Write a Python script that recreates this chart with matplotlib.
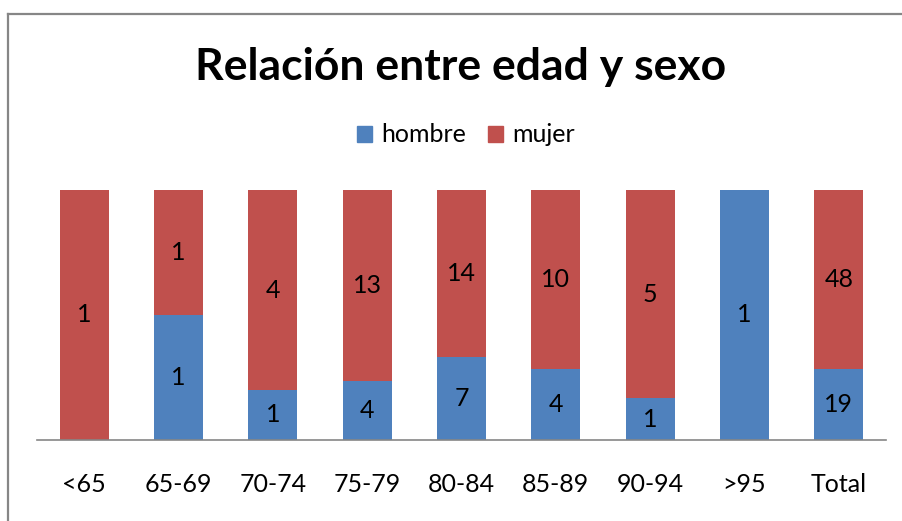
import numpy as np
import matplotlib.pyplot as plt
from matplotlib.patches import Rectangle
from matplotlib.lines import Line2D

# datos: edad y sexo
categorias = ['<65', '65-69', '70-74', '75-79', '80-84', '85-89', '90-94', '>95', 'Total']
hombre = [0, 1, 1, 4, 7, 4, 1, 1, 19]
mujer = [1, 1, 4, 13, 14, 10, 5, 0, 48]

azul = '#4F81BD'
rojo = '#C0504D'
fuente = ['Lato', 'DejaVu Sans']

W, H = 902, 521
fig = plt.figure(figsize=(W / 100, H / 100), dpi=100)
ax = fig.add_axes([37 / W, 1 - 440 / H, (886 - 37) / W, 250 / H])

h = np.array(hombre, dtype=float)
m = np.array(mujer, dtype=float)
tot = h + m
ph = h / tot
pm = m / tot
x = np.arange(len(categorias))

ax.bar(x, ph, width=0.52, color=azul, label='hombre')
ax.bar(x, pm, width=0.52, bottom=ph, color=rojo, label='mujer')

for i in range(len(x)):
    if h[i] > 0:
        ax.text(x[i], ph[i] / 2, str(hombre[i]), ha='center', va='center',
                fontsize=18, family=fuente, color='black')
    if m[i] > 0:
        ax.text(x[i], ph[i] + pm[i] / 2, str(mujer[i]), ha='center', va='center',
                fontsize=18, family=fuente, color='black')

ax.set_xlim(-0.5, len(x) - 0.5)
ax.set_ylim(0, 1)
ax.set_yticks([])
ax.set_xticks(x)
ax.set_xticklabels(categorias, family=fuente, fontsize=18)
ax.tick_params(axis='x', length=0, pad=24)
for s in ['top', 'right', 'left']:
    ax.spines[s].set_visible(False)
ax.spines['bottom'].set_color('#868686')
ax.spines['bottom'].set_linewidth(1.2)

fig.text(461 / W, 1 - 67 / H, 'Relación entre edad y sexo', ha='center', va='center',
         fontsize=32, fontweight='bold', family=fuente)

handles = [Rectangle((0, 0), 1, 1, color=azul), Rectangle((0, 0), 1, 1, color=rojo)]
fig.legend(handles, ['hombre', 'mujer'], loc='center', bbox_to_anchor=(466 / W, 1 - 135 / H),
           ncol=2, frameon=False, prop={'family': fuente, 'size': 18},
           handlelength=0.6, handleheight=0.6, handletextpad=0.35, columnspacing=0.9)

# borde gris del grafico
fig.add_artist(Line2D([8 / W, 8 / W], [0, 1 - 14 / H], color='#868686', lw=1.6,
                      transform=fig.transFigure))
fig.add_artist(Line2D([8 / W, 1], [1 - 14 / H, 1 - 14 / H], color='#868686', lw=1.6,
                      transform=fig.transFigure))

fig.savefig('out.png', dpi=100)
